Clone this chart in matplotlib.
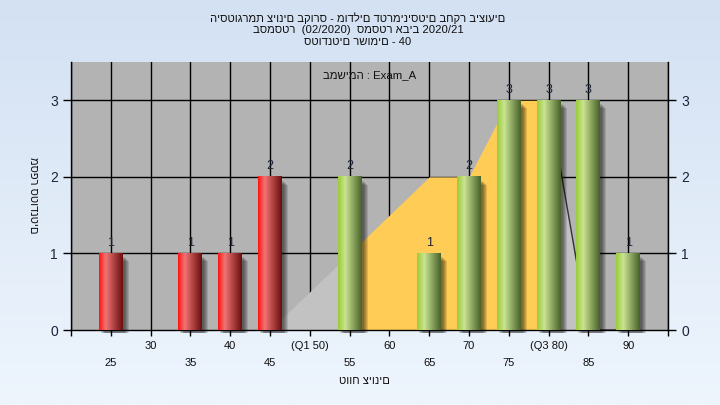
import matplotlib
matplotlib.use("Agg")
import matplotlib.pyplot as plt
import numpy as np
from matplotlib.colors import LinearSegmentedColormap
from matplotlib.patches import Rectangle

plt.rcParams['font.family'] = ['Liberation Sans', 'DejaVu Sans']

# data
grades = [25, 35, 40, 45, 55, 65, 70, 75, 80, 85, 90]
counts = [1, 1, 1, 2, 2, 1, 2, 3, 3, 3, 1]
pass_mark = 50  # bars below are red

# background shape behind the bars
shape_x = [45, 55, 65, 70, 75, 80, 85, 90]
shape_y = [0, 1, 2, 2, 3, 3, 0, 0]
q1, q3 = 55, 80

upper_ticks = [30, 40, 50, 60, 70, 80, 90]
upper_labels = ['30', '40', '(Q1 50)', '60', '70', '(Q3 80)', '90']
lower_ticks = [25, 35, 45, 55, 65, 75, 85]

title_lines = ["היסטוגרמת ציונים בקורס - מודלים דטרמיניסטים בחקר ביצועים",
               "בסמסטר  (02/2020)  סמסטר אביב 2020/21",
               "סטודנטים רשומים - 40"]
exam_label = "במשימה : Exam_A"
x_title = "טווח ציונים"
y_title = "מספר סטודנטים"

fig = plt.figure(figsize=(7.2, 4.05), dpi=100)

# light blue gradient backdrop
bg = fig.add_axes([0, 0, 1, 1], zorder=-5)
grad = np.linspace(0, 1, 256).reshape(-1, 1)
bg_cmap = LinearSegmentedColormap.from_list('bg', ['#D3E1F3', '#EEF5FD'])
bg.imshow(grad, cmap=bg_cmap, aspect='auto', extent=(0, 1, 0, 1))
bg.axis('off')

ax = fig.add_axes([71 / 720, 1 - 330 / 405, (668 - 71) / 720, (330 - 62) / 405])
ax.set_facecolor('#B3B3B3')

# grid
for gx in range(20, 96, 5):
    ax.axvline(gx, color='black', lw=1, zorder=1)
for gy in [1, 2, 3]:
    ax.axhline(gy, color='black', lw=1, zorder=1)

# background shape, split by quartiles
sx = np.array(shape_x, dtype=float)
sy = np.array(shape_y, dtype=float)
fx = np.linspace(sx[0], sx[-1], 901)
fy = np.interp(fx, sx, sy)
ax.fill_between(fx, 0, fy, where=fx <= q1, color='#C2C2C2', lw=0, zorder=2)
ax.fill_between(fx, 0, fy, where=(fx >= q1) & (fx <= q3), color='#FFCC55', lw=0, zorder=2)
ax.fill_between(fx, 0, fy, where=fx >= q3, color='#C2C2C2', lw=0, zorder=2)
right = fx >= q3
ax.plot(fx[right], fy[right], color='#333333', lw=1, zorder=2.5)

red_cmap = LinearSegmentedColormap.from_list('red', [(0, '#FF1414'), (0.28, '#F07474'), (1, '#6A0E0E')])
green_cmap = LinearSegmentedColormap.from_list('green', [(0, '#9ACB38'), (0.3, '#CAE492'), (1, '#48622A')])

w = 3.0
dxp = 1 / 7.96   # one pixel in x data units
dyp = 1 / 76.67  # one pixel in y data units
bar_grad = np.linspace(0, 1, 64).reshape(1, -1)
for g, c in zip(grades, counts):
    # soft shadow
    for k in range(1, 6):
        ax.add_patch(Rectangle((g - w / 2 + (k + 1) * dxp, -3 * dyp), w, c - k * dyp,
                               facecolor='black', alpha=0.12, lw=0, zorder=3, clip_on=False))
    cmap = red_cmap if g < pass_mark else green_cmap
    ax.imshow(bar_grad, cmap=cmap, extent=(g - w / 2, g + w / 2, 0, c),
              aspect='auto', interpolation='bilinear', zorder=4)
    ax.text(g, c + 0.06, str(c), ha='center', va='bottom', fontsize=9, color='#1a2538', zorder=5)

ax.text(0.5, 0.951, exam_label, transform=ax.transAxes, ha='center', va='center',
        fontsize=8.2, color='#101010', zorder=6)

ax.set_xlim(20, 95)
ax.set_ylim(0, 3.5)
ax.set_xticks(range(20, 96, 5))
ax.set_xticklabels([])
ax.set_yticks([0, 1, 2, 3])
ax.tick_params(axis='x', direction='out', length=4, width=1, color='black')
ax.tick_params(axis='y', direction='out', length=6, width=1, color='black',
               labelsize=10, labelcolor='#1a2538', right=True, labelright=True)
for s in ['left', 'right', 'bottom']:
    ax.spines[s].set_color('black')
    ax.spines[s].set_linewidth(1)
ax.spines['top'].set_visible(False)

# two rows of x labels
for t, lab in zip(upper_ticks, upper_labels):
    fx_ = (71 + (t - 20) * 7.96) / 720
    fig.text(fx_, 1 - 346 / 405, lab, ha='center', va='center', fontsize=8, color='#101010')
for t in lower_ticks:
    fx_ = (71 + (t - 20) * 7.96) / 720
    fig.text(fx_, 1 - 363 / 405, str(t), ha='center', va='center', fontsize=8, color='#101010')

fig.text(364 / 720, 1 - 381 / 405, x_title, ha='center', va='center', fontsize=8, color='#101010')
fig.text(33 / 720, 1 - 195 / 405, y_title, ha='center', va='center', rotation=270,
         fontsize=8, color='#101010')

for i, line in enumerate(title_lines):
    fig.text(358 / 720, 1 - (18 + 12 * i) / 405, line, ha='center', va='center',
             fontsize=8.1, color='#101010')

fig.savefig('out.png', dpi=100)
